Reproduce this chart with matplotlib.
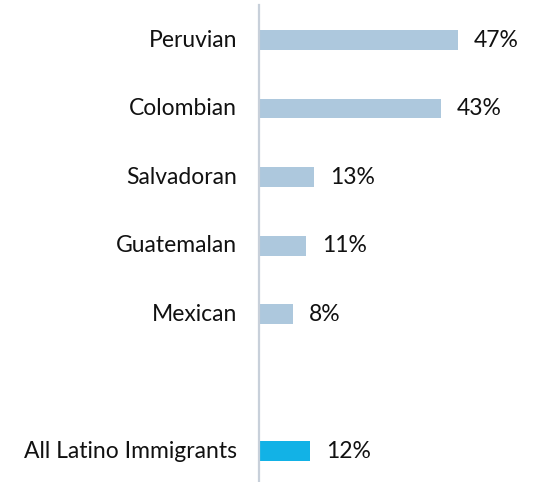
import matplotlib
matplotlib.use('Agg')
import matplotlib.pyplot as plt

categories = ['Peruvian', 'Colombian', 'Salvadoran', 'Guatemalan', 'Mexican', 'All Latino Immigrants']
values = [47, 43, 13, 11, 8, 12]
positions = [0, 1, 2, 3, 4, 6]
colors = ['#adc8dd', '#adc8dd', '#adc8dd', '#adc8dd', '#adc8dd', '#12b2e6']

plt.rcParams['font.family'] = ['Lato', 'DejaVu Sans']

fig = plt.figure(figsize=(5.35, 4.82), dpi=100)
ax = fig.add_axes([259 / 535, 0, 1 - 259 / 535, 1])

ax.barh(positions, values, height=0.29, color=colors)
for p, v, c in zip(positions, values, categories):
    ax.text(v + 3.8, p, '%d%%' % v, va='center', ha='left', fontsize=16.5, color='#111111')
    ax.text(-5.2, p, c, va='center', ha='right', fontsize=16.5, color='#111111')

ax.set_xlim(0, 65.2)
ax.set_ylim(6.45, -0.584)
for s in ['top', 'right', 'bottom']:
    ax.spines[s].set_visible(False)
ax.spines['left'].set_color('#c8d0da')
ax.spines['left'].set_linewidth(1.6)
ax.spines['left'].set_bounds(-0.51, 6.45)
ax.set_xticks([])
ax.set_yticks([])

fig.savefig('out.png', dpi=100)
